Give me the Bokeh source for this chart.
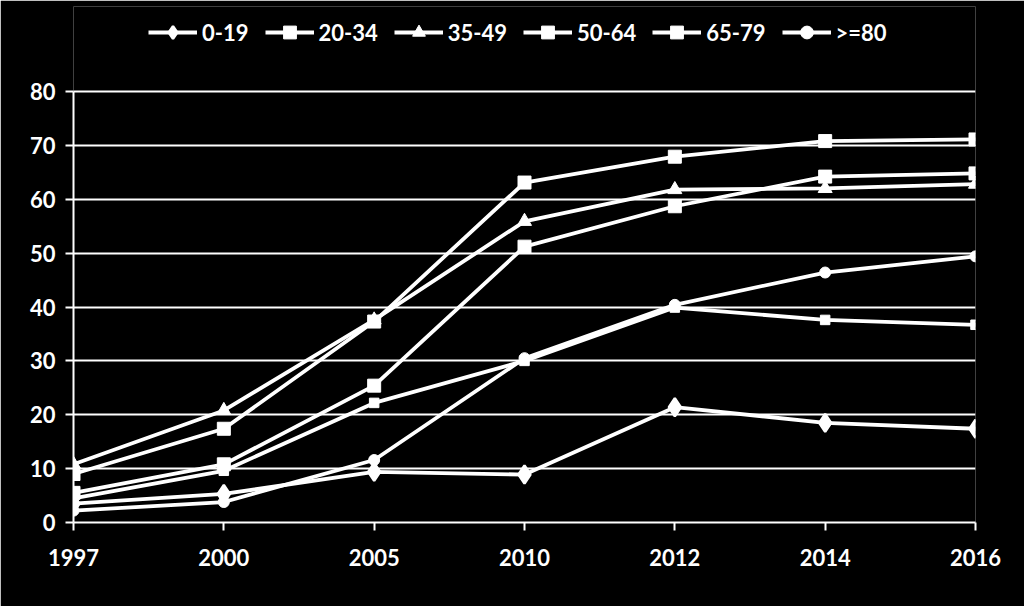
from bokeh.plotting import figure
from bokeh.models import Legend, LegendItem, FixedTicker, Range1d
from bokeh.embed import file_html
from bokeh.resources import INLINE

years = ["1997", "2000", "2005", "2010", "2012", "2014", "2016"]
age_0_19 = [3.5, 5.3, 9.4, 8.9, 21.4, 18.5, 17.4]
age_20_34 = [4.5, 9.6, 22.2, 30.0, 39.9, 37.6, 36.7]
age_35_49 = [10.8, 20.8, 37.6, 55.9, 61.8, 62.0, 62.8]
age_50_64 = [5.5, 10.8, 25.4, 51.2, 58.7, 64.2, 64.8]
age_65_79 = [9.0, 17.4, 37.3, 63.1, 67.9, 70.8, 71.1]
age_80 = [2.2, 3.8, 11.6, 30.5, 40.4, 46.4, 49.4]
y_ticks = [0, 10, 20, 30, 40, 50, 60, 70, 80]

x = list(range(len(years)))
FONT = "Lato"
WHITE = "#ffffff"

# frame spans 6..522 px; the 0-80 axis occupies its lower 431 px, legend sits above
Y_MAX = y_ticks[-1]
FRAME_TOP, FRAME_BOTTOM, AXIS_TOP = 6, 522, 91
y_end = Y_MAX * (FRAME_BOTTOM - FRAME_TOP) / (FRAME_BOTTOM - AXIS_TOP)

p = figure(width=1024, height=606, output_backend="svg", toolbar_location=None,
           x_range=Range1d(0, len(years) - 1), y_range=Range1d(0, y_end),
           background_fill_color="black", border_fill_color="black",
           outline_line_color=None, min_border_left=73, min_border_right=49,
           min_border_top=FRAME_TOP, min_border_bottom=606 - FRAME_BOTTOM)
p.title.visible = False

p.xgrid.grid_line_color = None
p.ygrid.grid_line_color = WHITE
p.ygrid.grid_line_width = 2
p.ygrid.ticker = FixedTicker(ticks=y_ticks)

for ax in (p.xaxis[0], p.yaxis[0]):
    ax.axis_line_color = WHITE
    ax.axis_line_width = 2
    ax.major_tick_line_color = WHITE
    ax.major_tick_line_width = 2
    ax.major_tick_out = 8
    ax.major_tick_in = 0
    ax.minor_tick_line_color = None
    ax.major_label_text_color = WHITE
    ax.major_label_text_font = FONT
    ax.major_label_text_font_style = "bold"
    ax.major_label_text_font_size = "22px"

p.xaxis.ticker = FixedTicker(ticks=x)
p.xaxis.major_label_overrides = {i: y for i, y in zip(x, years)}
p.xaxis.major_label_standoff = 18
p.yaxis.ticker = FixedTicker(ticks=y_ticks)
p.yaxis.bounds = (0, Y_MAX)
p.yaxis.major_label_standoff = 10

series = [
    ("0-19", age_0_19, "diamond", 18, 2.5),
    ("20-34", age_20_34, "square", 9.5, 1),
    ("35-49", age_35_49, "triangle", 14, 1),
    ("50-64", age_50_64, "square", 13, 1),
    ("65-79", age_65_79, "square", 13, 1),
    (">=80", age_80, "circle", 11, 1),
]

items = []
for name, vals, marker, size, lw in series:
    ln = p.line(x, vals, line_color=WHITE, line_width=3.8)
    sc = p.scatter(x, vals, marker=marker, size=size,
                   fill_color=WHITE, line_color=WHITE, line_width=lw)
    items.append(LegendItem(label=name, renderers=[ln, sc]))

legend = Legend(items=items, orientation="horizontal", location=(75, 474),
                background_fill_alpha=0, border_line_color=None,
                label_text_color=WHITE, label_text_font=FONT,
                label_text_font_style="bold", label_text_font_size="22px",
                glyph_width=49, glyph_height=32, label_standoff=5,
                spacing=16, padding=0, margin=0, label_height=22)
p.add_layout(legend, "center")

open("out.html", "w").write(file_html(p, INLINE))
